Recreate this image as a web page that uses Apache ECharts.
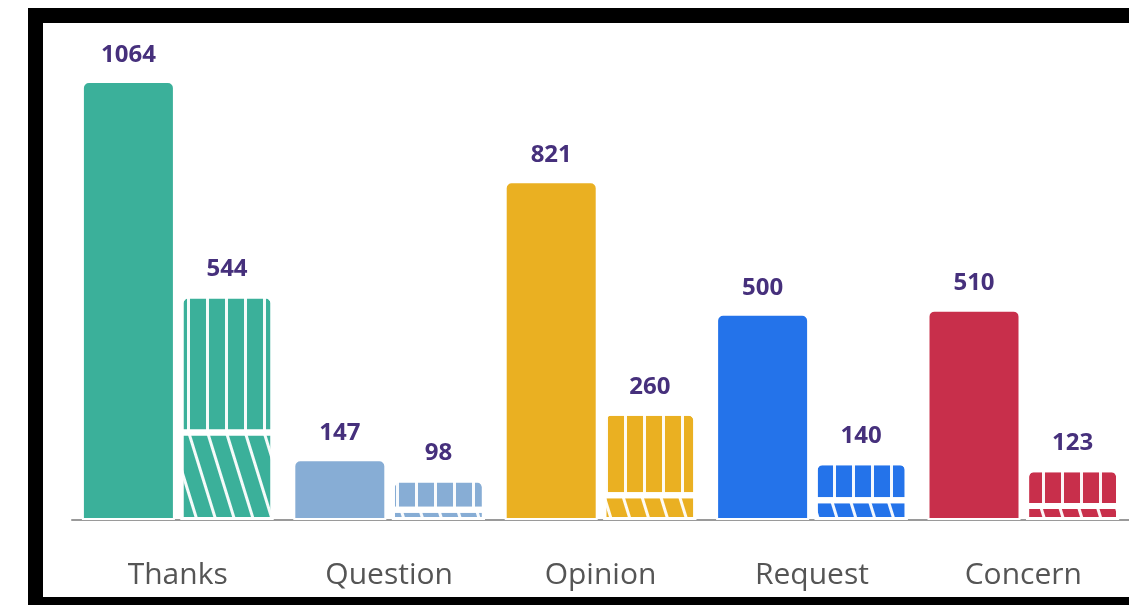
<!DOCTYPE html>
<html>
<head>
<meta charset="utf-8">
<script src="https://cdn.jsdelivr.net/npm/echarts@6/dist/echarts.min.js"></script>
<style>
html,body{margin:0;padding:0;background:#fff;}
#chart{width:1129px;height:605px;}
</style>
</head>
<body>
<div id="chart"></div>
<script>
const categories = ['Thanks', 'Question', 'Opinion', 'Request', 'Concern'];
const totals = [1064, 147, 821, 500, 510];
const subsetTotals = [544, 98, 260, 140, 123];
const subsetBottom = [212, 25, 60, 48, 34];
const subsetTop = [332, 73, 200, 92, 89];

const palette = ['#3BB09A', '#87ADD5', '#EAB022', '#2473EA', '#C82F4B'];

const chart = echarts.init(document.getElementById('chart'), null, {renderer: 'canvas'});

const labelStyle = {
  show: true,
  position: 'top',
  distance: 14,
  color: '#46307C',
  fontFamily: 'Open Sans',
  fontWeight: 'bold',
  fontSize: 24
};

const vStripe = {
  symbol: 'rect',
  symbolSize: 1,
  color: 'rgba(255,255,255,0.95)',
  dashArrayX: [1, 0],
  dashArrayY: [2.5, 15.2],
  rotation: Math.PI / 2
};
const dStripe = {
  symbol: 'rect',
  symbolSize: 1,
  color: 'rgba(255,255,255,0.95)',
  dashArrayX: [1, 0],
  dashArrayY: [2.5, 15],
  rotation: (Math.PI / 2 - 0.3)
};

const option = {
  animation: false,
  backgroundColor: '#fff',
  grid: {left: 72, right: -6, top: 25, bottom: 85, containLabel: false},
  xAxis: {
    type: 'category',
    data: categories,
    axisLine: {show: true, lineStyle: {color: '#9a9a9a', width: 2}},
    axisTick: {show: false},
    axisLabel: {
      color: '#555',
      fontFamily: 'Open Sans',
      fontSize: 30,
      margin: 40
    }
  },
  yAxis: {
    type: 'value',
    min: 0,
    max: 1200,
    show: false,
    splitLine: {show: false}
  },
  series: [
    {
      type: 'bar',
      name: 'all',
      barWidth: 93,
      barGap: '6%',
      data: totals.map((v, i) => ({
        value: v,
        itemStyle: {color: palette[i]}
      })),
      itemStyle: {borderRadius: [6, 6, 0, 0], borderColor: '#fff', borderWidth: 2},
      label: labelStyle
    },
    {
      type: 'bar',
      name: 'bottom',
      stack: 'sub',
      barWidth: 93,
      data: subsetBottom.map((v, i) => ({
        value: v,
        itemStyle: {color: palette[i], decal: dStripe}
      })),
      itemStyle: {borderColor: '#fff', borderWidth: 3}
    },
    {
      type: 'bar',
      name: 'top',
      stack: 'sub',
      barWidth: 93,
      data: subsetTop.map((v, i) => ({
        value: v,
        itemStyle: {color: palette[i], decal: vStripe}
      })),
      itemStyle: {borderRadius: [6, 6, 0, 0], borderColor: '#fff', borderWidth: 3},
      label: Object.assign({}, labelStyle, {
        formatter: p => String(subsetTotals[p.dataIndex])
      })
    }
  ],
  graphic: [
    {
      type: 'rect',
      silent: true,
      z: 100,
      shape: {x: 35.5, y: 15.5, width: 1200, height: 589},
      style: {fill: 'none', stroke: '#000', lineWidth: 15}
    }
  ]
};

chart.setOption(option);
</script>
</body>
</html>
